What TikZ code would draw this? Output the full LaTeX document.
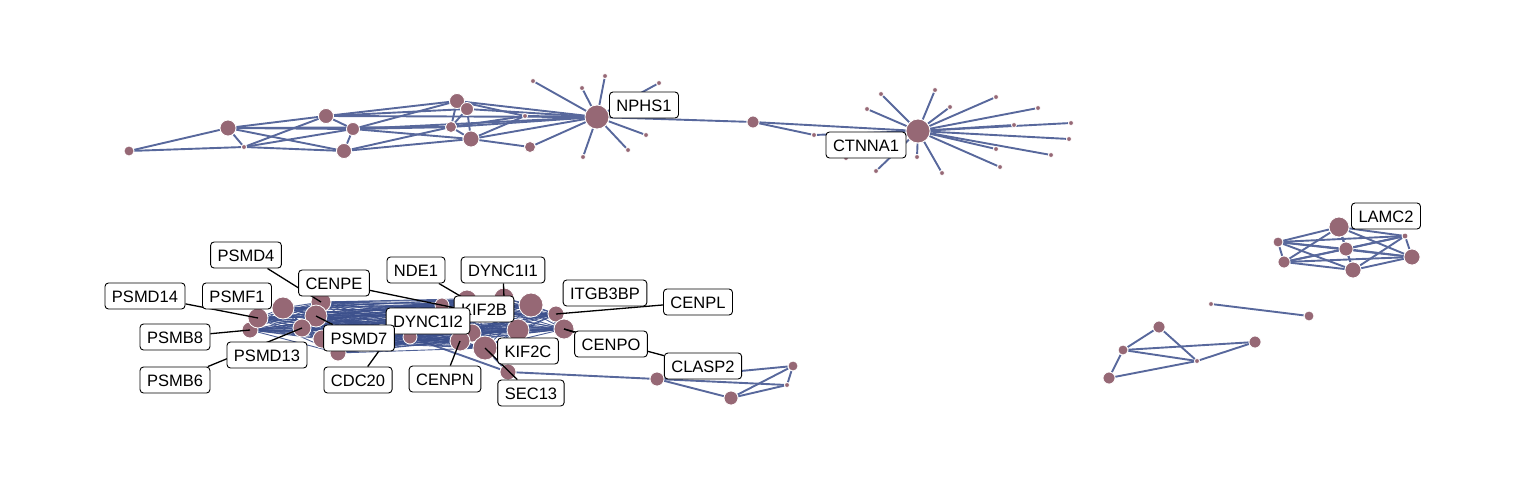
\documentclass[tikz,border=0pt]{standalone}
\usepackage{fontspec}
\setmainfont{Liberation Sans}
\pgfdeclarelayer{edges}
\pgfdeclarelayer{lines}
\pgfdeclarelayer{labels}
\pgfsetlayers{edges,main,lines,labels}
\definecolor{vfill}{RGB}{150,104,117}
\definecolor{ecol}{RGB}{88,104,156}
\definecolor{dcol}{RGB}{60,80,140}
\tikzset{
  v/.style={circle,fill=vfill,draw=white,line width=0.8pt,inner sep=0pt,minimum size=#1},
  link/.style={draw=ecol,line width=1.9pt},
  dense/.style={draw=dcol,line width=0.9pt,opacity=0.9},
  lab/.style={draw=black,fill=white,line width=0.9pt,rounded corners=3.5pt,inner xsep=7pt,inner ysep=7pt,text height=12pt,text depth=0pt,font=\fontsize{16.5}{18}\selectfont},
  lline/.style={draw=black,line width=1.3pt}
}
\begin{document}
\begin{tikzpicture}[x=1pt,y=-1pt]
\useasboundingbox (0,0) rectangle (1536,480);
% ---------- top-left cluster ----------
\node[v=10pt] (ta) at (129,151) {};
\node[v=16pt] (tb) at (228,128) {};
\node[v=5pt]  (tc) at (244,147) {};
\node[v=15pt] (td) at (326,116) {};
\node[v=13pt] (te) at (353,129) {};
\node[v=15pt] (tf) at (344,151) {};
\node[v=15pt] (tg) at (457,101) {};
\node[v=13pt] (th) at (467,109) {};
\node[v=11pt] (ti) at (451,127) {};
\node[v=16pt] (tj) at (471,139) {};
\node[v=5pt]  (tk) at (525,116) {};
\node[v=11pt] (tl) at (530,147) {};
\node[v=24pt] (np) at (597,117) {};
\node[v=5pt] (n1) at (533,81) {};
\node[v=5pt] (n2) at (605,76) {};
\node[v=5pt] (n3) at (582,88) {};
\node[v=5pt] (n4) at (659,83) {};
\node[v=5pt] (n5) at (646,135) {};
\node[v=5pt] (n6) at (628,150) {};
\node[v=5pt] (n7) at (583,157) {};
\node[v=12pt] (m) at (753,122) {};
\node[v=5pt] (s1) at (814,135) {};
% ---------- CTNNA1 star ----------
\node[v=24pt] (ct) at (918,131) {};
\node[v=5pt] (cl1) at (881,94) {};
\node[v=5pt] (cl2) at (867,109) {};
\node[v=5pt] (cl3) at (935,90) {};
\node[v=5pt] (cl4) at (950,107) {};
\node[v=5pt] (cl5) at (996,97) {};
\node[v=5pt] (cl6) at (1038,108) {};
\node[v=5pt] (cl7) at (1014,125) {};
\node[v=5pt] (cl8) at (1071,123) {};
\node[v=5pt] (cl9) at (1069,139) {};
\node[v=5pt] (cl10) at (996,149) {};
\node[v=5pt] (cl11) at (1051,155) {};
\node[v=5pt] (cl12) at (1000,167) {};
\node[v=5pt] (cl13) at (942,173) {};
\node[v=5pt] (cl14) at (917,157) {};
\node[v=5pt] (cl15) at (876,171) {};
\node[v=5pt] (cl16) at (846,158) {};
% ---------- bottom-left dense cluster ----------
\node[v=16pt] (p1) at (250,330) {};
\node[v=20pt] (p2) at (258,318) {};
\node[v=22pt] (p3) at (283,308) {};
\node[v=20pt] (p4) at (321,302) {};
\node[v=22pt] (p5) at (316,316) {};
\node[v=18pt] (p6) at (302,328) {};
\node[v=18pt] (p7) at (322,339) {};
\node[v=16pt] (p8) at (338,353) {};
\node[v=14pt] (p9) at (410,337) {};
\node[v=14pt] (p10) at (384,344) {};
\node[v=14pt] (k1) at (442,305) {};
\node[v=20pt] (k2) at (467,300) {};
\node[v=20pt] (k3) at (504,298) {};
\node[v=24pt] (k4) at (531,305) {};
\node[v=16pt] (k5) at (556,314) {};
\node[v=20pt] (k6) at (564,329) {};
\node[v=22pt] (k7) at (518,330) {};
\node[v=18pt] (k8) at (472,333) {};
\node[v=20pt] (k9) at (460,341) {};
\node[v=24pt] (k10) at (485,348) {};
\node[v=20pt] (k11) at (480,313) {};
\node[v=16pt] (sec) at (508,372) {};
% ---------- CLASP2 cluster ----------
\node[v=14pt] (q1) at (657,379) {};
\node[v=10pt] (q2) at (793,366) {};
\node[v=5pt]  (q3) at (787,385) {};
\node[v=14pt] (q4) at (731,398) {};
% ---------- LAMC2 cluster ----------
\node[v=20pt] (la) at (1339,227) {};
\node[v=10pt] (lb) at (1278,242) {};
\node[v=14pt] (lc) at (1346,249) {};
\node[v=6pt]  (ld) at (1405,236) {};
\node[v=12pt] (le) at (1284,262) {};
\node[v=16pt] (lf) at (1412,257) {};
\node[v=16pt] (lg) at (1353,270) {};
% ---------- bottom-right ----------
\node[v=5pt]  (r1) at (1211,304) {};
\node[v=10pt] (r2) at (1309,316) {};
\node[v=12pt] (r3) at (1159,327) {};
\node[v=10pt] (r4) at (1123,350) {};
\node[v=12pt] (r5) at (1255,342) {};
\node[v=5pt]  (r6) at (1197,361) {};
\node[v=12pt] (r7) at (1109,378) {};
% ---------- edges ----------
\begin{pgfonlayer}{edges}
\foreach \a/\b in {ta/tb,ta/tc,tc/tf,tb/tc,tb/td,tb/te,tb/tf,tc/td,tc/te,td/te,te/tf,
  td/tg,td/th,te/tg,te/ti,te/tj,tf/ti,tf/tj,tb/ti,tg/th,tg/ti,th/ti,ti/tj,th/tj,
  tg/np,th/np,ti/np,tj/np,tk/np,tl/np,tj/tl,tg/tk,ti/tk,tj/tk,te/np,td/np,
  np/n1,np/n2,np/n3,np/n4,np/n5,np/n6,np/n7,np/m,m/ct,m/s1,s1/ct,
  ct/cl1,ct/cl2,ct/cl3,ct/cl4,ct/cl5,ct/cl6,ct/cl7,ct/cl8,ct/cl9,ct/cl10,ct/cl11,
  ct/cl12,ct/cl13,ct/cl14,ct/cl15,ct/cl16,
  p9/sec,sec/q1,k10/sec,k7/sec,
  q1/q2,q1/q3,q1/q4,q4/q2,q4/q3,q2/q3,
  la/lb,la/lc,la/ld,la/le,la/lf,la/lg,lb/lc,lb/ld,lb/le,lb/lf,lb/lg,lc/ld,lc/le,lc/lf,lc/lg,
  ld/le,ld/lf,ld/lg,le/lf,le/lg,lf/lg,
  r1/r2,r3/r4,r3/r6,r4/r5,r4/r6,r6/r5,r4/r7,r7/r6}
  \draw[link] (\a) -- (\b);
\foreach \i in {1,...,10}{\foreach \j in {1,...,10}{\ifnum\i<\j \draw[dense] (p\i) -- (p\j);\fi}}
\foreach \i in {1,...,11}{\foreach \j in {1,...,11}{\ifnum\i<\j \draw[dense] (k\i) -- (k\j);\fi}}
\foreach \i in {1,...,10}{\foreach \j in {1,...,11}{\draw[dense] (p\i) -- (k\j);}}
\end{pgfonlayer}
% ---------- labels ----------
\begin{pgfonlayer}{labels}
\node[lab] (Lnphs) at (644,105) {NPHS1};
\node[lab] (Lctnna) at (866,145) {CTNNA1};
\node[lab] (Llamc) at (1386,216) {LAMC2};
\node[lab] (Lpsmd4) at (246,255) {PSMD4};
\node[lab] (Lcenpe) at (334,283) {CENPE};
\node[lab] (Lnde) at (416,270) {NDE1};
\node[lab] (Ldynca) at (503,270) {DYNC1I1};
\node[lab] (Litg) at (605,293) {ITGB3BP};
\node[lab] (Lcenpl) at (698,302) {CENPL};
\node[lab] (Lpsmd14) at (145,296) {PSMD14};
\node[lab] (Lpsmf) at (237,296) {PSMF1};
\node[lab] (Lkifb) at (484,309) {KIF2B};
\node[lab] (Ldyncb) at (428,321) {DYNC1I2};
\node[lab] (Lpsmb8) at (175,337) {PSMB8};
\node[lab] (Lpsmd7) at (359,338) {PSMD7};
\node[lab] (Lpsmd13) at (267,355) {PSMD13};
\node[lab] (Lcenpo) at (611,344) {CENPO};
\node[lab] (Lkifc) at (528,351) {KIF2C};
\node[lab] (Lpsmb6) at (175,380) {PSMB6};
\node[lab] (Lcdc) at (358,380) {CDC20};
\node[lab] (Lcenpn) at (445,379) {CENPN};
\node[lab] (Lsec) at (531,393) {SEC13};
\node[lab] (Lclasp) at (703,366) {CLASP2};
\end{pgfonlayer}
\begin{pgfonlayer}{lines}
\foreach \l/\t in {Lpsmd4/p4,Lcenpe/k11,Lnde/k2,Ldynca/k3,Lcenpl/k5,Lpsmd14/p2,Lpsmb8/p1,
  Lpsmb6/p6,Lpsmd7/p5,Lcdc/p10,Lcenpn/k9,Lsec/k10,Lcenpo/k6,Lclasp/k6}
  \draw[lline] (\l) -- (\t.center);
\end{pgfonlayer}
\end{tikzpicture}
\end{document}
